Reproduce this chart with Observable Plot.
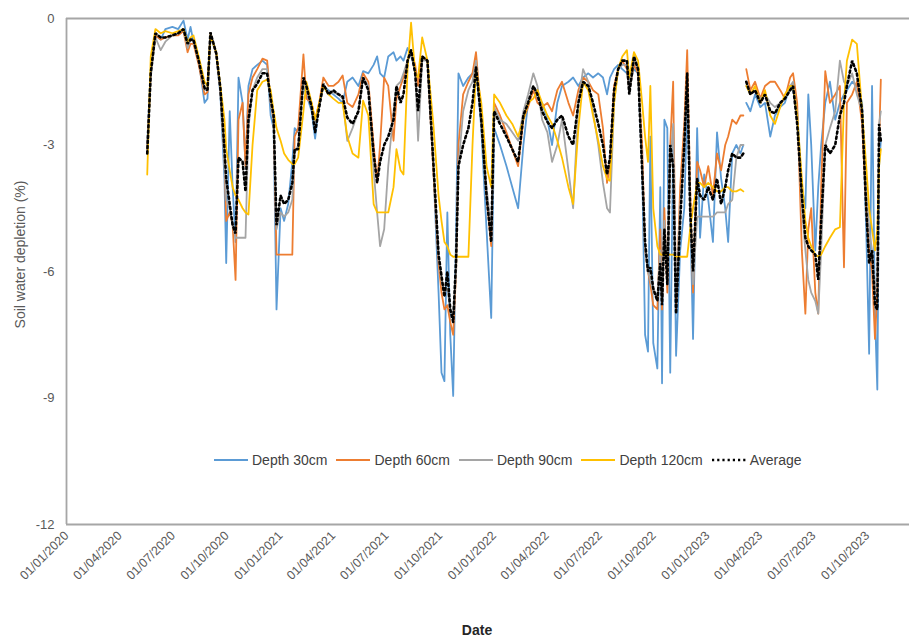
<!DOCTYPE html>
<html>
<head>
<meta charset="utf-8">
<script src="https://cdn.jsdelivr.net/npm/d3@7"></script>
<script src="https://cdn.jsdelivr.net/npm/@observablehq/plot@0.6"></script>
<style>
  html, body { margin: 0; padding: 0; background: #fff; }
  #wrap { position: relative; width: 909px; height: 643px; font-family: "Liberation Sans", Arial, sans-serif; }
  #legend { position: absolute; top: 452px; left: 213px; display: flex; align-items: center; font-size: 14px; color: #404040; white-space: nowrap; }
  #legend .item { display: flex; align-items: center; margin-right: 8px; }
  #legend svg { margin-right: 3px; }
</style>
</head>
<body>
<div id="wrap"><div id="legend"></div></div>
<script>
const dates = [
"2020-05-18","2020-05-24","2020-06-01","2020-06-10","2020-06-18","2020-06-30","2020-07-10","2020-07-19","2020-07-26","2020-07-31",
"2020-08-05","2020-08-14","2020-08-24","2020-08-29","2020-09-03","2020-09-13","2020-09-20","2020-09-27","2020-09-30","2020-10-06",
"2020-10-11","2020-10-16","2020-10-21","2020-10-28","2020-11-02","2020-11-07","2020-11-14","2020-11-22","2020-12-01","2020-12-09",
"2020-12-15","2020-12-20","2020-12-25","2021-01-01","2021-01-07","2021-01-14","2021-01-21","2021-01-25","2021-01-31","2021-02-09",
"2021-02-14","2021-02-23","2021-03-01","2021-03-08","2021-03-15","2021-03-24","2021-04-01","2021-04-10","2021-04-17","2021-04-25",
"2021-05-04","2021-05-14","2021-05-22","2021-05-31","2021-06-09","2021-06-15","2021-06-20","2021-06-27","2021-07-04","2021-07-13",
"2021-07-18","2021-07-25","2021-07-30","2021-08-06","2021-08-12","2021-08-19","2021-08-24","2021-08-31","2021-09-09","2021-09-19",
"2021-09-28","2021-10-03","2021-10-08","2021-10-13","2021-10-18","2021-10-23","2021-10-28","2021-11-01","2021-11-09","2021-11-18",
"2021-11-25","2021-12-01","2021-12-10","2021-12-19","2021-12-27","2022-01-01","2022-01-11","2022-01-22","2022-02-01","2022-02-11",
"2022-02-20","2022-02-28","2022-03-09","2022-03-16","2022-03-24","2022-04-02","2022-04-10","2022-04-19","2022-04-27","2022-05-08",
"2022-05-16","2022-05-25","2022-06-02","2022-06-11","2022-06-19","2022-06-28","2022-07-06","2022-07-13","2022-07-18","2022-07-25",
"2022-08-01","2022-08-08","2022-08-16","2022-08-20","2022-08-28","2022-09-04","2022-09-11","2022-09-16","2022-09-21","2022-09-25",
"2022-09-30","2022-10-07","2022-10-12","2022-10-15","2022-10-19","2022-10-24","2022-10-29","2022-11-03","2022-11-08","2022-11-15",
"2022-11-22","2022-11-27","2022-12-02","2022-12-07","2022-12-14","2022-12-19","2022-12-26","2023-01-02","2023-01-10","2023-01-17",
"2023-01-24","2023-01-31","2023-02-05","2023-02-12","2023-02-19","2023-02-26","2023-03-03","2023-03-05","2023-03-08","2023-03-15",
"2023-03-23","2023-04-01","2023-04-09","2023-04-18","2023-04-26","2023-05-05","2023-05-13","2023-05-22","2023-05-27","2023-06-03",
"2023-06-11","2023-06-17","2023-06-22","2023-06-27","2023-07-04","2023-07-09","2023-07-14","2023-07-21","2023-07-29","2023-08-07",
"2023-08-15","2023-08-22","2023-08-27","2023-09-05","2023-09-13","2023-09-22","2023-09-29","2023-10-04","2023-10-09","2023-10-14",
"2023-10-18","2023-10-21","2023-10-24"
];
const depth30 = [
-3.0,-1.2,-0.4,-0.5,-0.25,-0.2,-0.25,-0.05,-0.5,-0.2,
-0.55,-1.0,-2.0,-1.9,-0.4,-0.85,-1.8,-3.8,-5.8,-2.2,
-4.0,-5.3,-1.4,-2.0,-3.5,-1.6,-1.2,-1.1,-1.0,-1.1,
-2.3,-2.6,-6.9,-4.5,-4.8,-4.4,-3.4,-2.6,-2.7,-1.6,
-1.8,-2.2,-2.85,-2.0,-1.6,-1.7,-1.8,-1.9,-2.0,-1.5,
-1.4,-1.6,-1.25,-1.3,-1.1,-0.9,-1.3,-1.4,-0.9,-0.8,
-1.0,-0.9,-1.0,-0.7,-0.9,-1.2,-1.5,-0.9,-1.0,-3.5,
-6.5,-8.4,-8.6,-4.6,-7.5,-8.95,-5.0,-1.3,-1.6,-1.4,
-1.3,-1.1,-2.6,-5.0,-7.1,-2.6,-3.0,-3.5,-4.0,-4.5,
-3.0,-2.0,-1.7,-1.9,-2.0,-2.4,-3.0,-2.0,-1.6,-1.5,
-1.4,-1.6,-1.4,-1.3,-1.4,-1.3,-1.4,-1.8,-1.4,-1.2,
-1.1,-1.2,-1.3,-1.6,-1.2,-1.3,-3.5,-7.5,-7.9,-2.8,
-7.7,-8.3,-4.0,-8.65,-2.4,-2.6,-8.4,-3.0,-8.0,-5.5,
-4.5,-2.0,-4.5,-7.6,-2.6,-5.2,-3.7,-4.3,-5.3,-2.7,
-3.8,-4.5,-5.3,-3.2,-3.0,-3.2,-3.0,null,-2.0,-2.2,
-1.8,-2.1,-2.0,-2.8,-2.3,-2.1,-2.0,-1.6,-1.7,-2.2,
-4.0,-4.5,-1.8,-3.0,-5.5,-4.0,-3.0,-2.0,-1.5,-2.4,
-2.0,-1.8,-1.7,-1.5,-1.6,-2.0,-5.0,-7.95,-1.6,-7.0,
-8.8,-3.5,-2.9
];
const depth60 = [
-3.1,-1.3,-0.4,-0.5,-0.45,-0.4,-0.4,-0.3,-0.8,-0.6,
-0.6,-1.1,-1.8,-1.75,-0.35,-0.85,-1.7,-3.3,-4.8,-4.6,
-4.9,-6.2,-2.4,-2.0,-3.5,-1.8,-1.4,-1.2,-0.95,-1.0,
-2.0,-2.4,-5.6,-5.6,-5.6,-5.6,-5.6,-2.8,-2.6,-0.85,
-1.9,-2.0,-2.4,-2.0,-1.4,-1.6,-1.6,-1.5,-1.35,-2.0,
-2.1,-1.8,-1.3,-1.5,-3.0,-3.9,-3.0,-1.4,-1.6,-2.9,
-1.9,-1.6,-1.4,-1.0,-0.8,-1.1,-1.6,-0.9,-1.0,-3.6,
-5.8,-6.5,-6.9,-6.8,-7.2,-7.5,-6.0,-3.0,-1.8,-1.5,
-1.3,-0.8,-2.3,-4.2,-5.4,-2.0,-2.3,-2.7,-3.1,-3.5,
-2.4,-2.1,-1.7,-2.0,-2.1,-2.0,-2.2,-1.7,-1.5,-2.0,
-2.3,-1.7,-1.4,-1.5,-1.7,-1.8,-2.6,-3.9,-3.5,-1.6,
-1.2,-1.0,-1.2,-1.7,-1.1,-1.3,-3.0,-5.5,-6.0,-6.3,
-6.8,-6.9,-5.0,-6.9,-4.5,-6.5,-3.0,-1.5,-6.9,-4.0,
-2.5,-0.75,-4.0,-6.5,-3.4,-3.6,-4.0,-3.5,-4.2,-3.2,
-3.6,-3.0,-2.8,-2.4,-2.5,-2.3,-2.3,null,-1.2,-1.7,
-1.5,-1.9,-1.6,-1.5,-1.5,-1.7,-1.9,-1.4,-1.3,-2.0,
-5.5,-7.0,-5.0,-4.5,-6.5,-7.0,-4.0,-1.25,-2.0,-1.8,
-1.6,-5.9,-2.0,-1.8,-1.5,-2.5,-4.5,-5.5,-6.0,-7.6,
-6.5,-3.0,-1.45
];
const depth90 = [
-3.2,-1.4,-0.45,-0.75,-0.55,-0.4,-0.35,-0.25,-0.7,-0.5,
-0.55,-1.0,-1.7,-1.7,-0.35,-0.85,-1.7,-3.4,-4.3,-4.5,
-4.9,-5.2,-5.2,-5.2,-5.2,-2.6,-1.7,-1.4,-1.2,-1.2,
-2.0,-2.3,-5.0,-4.6,-4.7,-4.6,-4.3,-3.2,-3.0,-1.4,
-1.7,-2.1,-2.5,-2.1,-1.6,-1.8,-1.75,-1.8,-1.9,-2.9,
-2.6,-2.2,-1.4,-1.6,-3.6,-4.6,-5.4,-5.0,-3.5,-2.2,
-1.6,-1.5,-1.3,-1.0,-0.8,-1.3,-2.9,-1.0,-1.0,-3.4,
-5.6,-6.2,-6.5,-6.4,-6.9,-7.0,-6.0,-3.5,-2.2,-1.7,
-1.5,-1.0,-2.5,-4.0,-5.0,-2.1,-2.4,-2.5,-2.7,-2.9,
-2.2,-1.8,-1.3,-1.6,-2.4,-2.7,-3.4,-3.0,-2.4,-3.6,
-4.5,-2.0,-1.2,-1.5,-2.2,-3.0,-3.9,-4.5,-4.6,-2.0,
-1.2,-1.1,-1.1,-1.8,-1.0,-1.2,-3.5,-5.5,-6.0,-6.2,
-6.5,-6.6,-5.5,-6.6,-4.8,-6.0,-3.5,-2.5,-6.5,-4.5,
-3.0,-1.5,-4.5,-6.3,-4.7,-4.7,-4.7,-4.7,-4.7,-4.6,
-4.6,-4.6,-4.4,-4.3,-3.3,-3.0,-3.0,null,-1.6,-1.8,
-1.7,-1.9,-1.8,-2.0,-2.1,-2.0,-1.9,-1.6,-1.5,-2.3,
-4.5,-5.5,-6.2,-6.5,-6.7,-7.0,-5.5,-3.0,-2.6,-2.2,
-1.0,-1.5,-1.6,-1.3,-1.8,-2.2,-4.0,-5.0,-5.5,-6.5,
-6.0,-2.5,-2.2
];
const depth120 = [
-3.7,-0.9,-0.25,-0.35,-0.3,-0.35,-0.3,-0.25,-0.55,-0.45,
-0.4,-0.9,-1.5,-1.6,-0.4,-0.8,-1.6,-2.4,-3.1,-3.6,
-4.0,-4.2,-4.3,-4.5,-4.6,-4.65,-3.0,-1.7,-1.5,-1.45,
-1.7,-2.2,-2.6,-2.9,-3.2,-3.35,-3.45,-3.45,-3.3,-2.2,
-1.5,-2.0,-2.4,-2.0,-1.6,-1.8,-1.9,-2.0,-2.0,-2.8,
-3.2,-3.3,-1.95,-2.3,-4.4,-4.6,-4.6,-4.6,-4.6,-4.0,
-3.1,-3.6,-3.7,-1.2,-0.1,-1.3,-1.4,-0.45,-1.0,-2.5,
-4.2,-4.8,-5.3,-5.4,-5.6,-5.65,-5.65,-5.65,-5.65,-5.65,
-3.0,-1.2,-2.0,-3.5,-4.0,-1.8,-2.0,-2.3,-2.5,-2.8,
-2.4,-2.0,-1.9,-1.7,-2.0,-2.3,-2.5,-2.9,-3.3,-4.0,
-4.4,-2.6,-1.5,-1.7,-2.3,-2.9,-3.5,-3.8,-3.85,-2.0,
-1.2,-0.9,-0.75,-1.4,-0.8,-1.0,-2.0,-2.8,-3.4,-1.6,
-4.5,-5.4,-5.6,-5.6,-5.6,-5.6,-5.6,-5.6,-5.65,-5.65,
-5.65,-5.65,-5.0,-4.5,-3.9,-3.9,-4.0,-3.9,-4.0,-4.1,
-4.1,-4.0,-4.0,-4.1,-4.1,-4.05,-4.1,null,-1.6,-1.8,
-1.6,-2.0,-1.7,-2.3,-2.5,-2.1,-1.8,-1.6,-1.6,-2.3,
-3.8,-4.8,-5.2,-5.4,-5.6,-5.65,-5.6,-5.4,-5.2,-5.0,
-4.95,-2.0,-1.0,-0.5,-0.6,-2.2,-3.5,-4.5,-5.0,-5.5,
-5.0,-3.5,-3.1
];
const average = [
-3.2,-1.3,-0.35,-0.45,-0.45,-0.4,-0.35,-0.25,-0.6,-0.5,
-0.5,-1.0,-1.65,-1.7,-0.33,-0.83,-1.65,-3.1,-3.8,-4.4,
-4.9,-5.1,-3.3,-3.4,-4.1,-2.4,-1.7,-1.55,-1.3,-1.3,
-1.9,-2.3,-4.9,-4.2,-4.4,-4.3,-3.9,-3.1,-3.1,-1.4,
-1.6,-2.1,-2.7,-2.1,-1.55,-1.8,-1.7,-1.8,-1.85,-2.35,
-2.5,-2.2,-1.4,-1.7,-3.2,-3.9,-3.4,-3.0,-2.8,-2.4,
-1.6,-2.0,-1.8,-1.0,-0.75,-1.3,-2.2,-0.9,-1.0,-3.4,
-5.6,-6.1,-6.6,-6.0,-6.9,-7.2,-5.7,-3.5,-3.0,-2.6,
-2.0,-1.15,-2.4,-4.2,-5.3,-2.2,-2.5,-2.8,-3.1,-3.4,
-2.3,-2.0,-1.6,-1.8,-2.2,-2.45,-2.6,-2.4,-2.3,-2.8,
-3.0,-2.0,-1.5,-1.6,-2.0,-2.5,-3.0,-3.7,-3.3,-1.7,
-1.2,-1.0,-1.0,-1.8,-0.9,-1.2,-3.6,-5.3,-6.0,-5.9,
-6.4,-6.7,-5.8,-6.8,-5.0,-6.3,-3.0,-3.5,-7.0,-4.8,
-3.0,-1.3,-4.5,-6.0,-3.8,-4.2,-4.3,-4.0,-4.3,-3.8,
-4.4,-4.0,-3.6,-3.2,-3.3,-3.3,-3.2,null,-1.5,-1.8,
-1.7,-2.0,-1.8,-2.2,-2.25,-2.0,-1.9,-1.7,-1.6,-2.5,
-4.2,-5.2,-5.4,-5.5,-5.6,-6.2,-4.8,-3.0,-3.2,-3.0,
-2.3,-2.0,-1.6,-1.0,-1.3,-2.2,-4.5,-5.8,-5.5,-6.8,
-6.9,-2.5,-2.9
];
const seriesNames = ["Depth 30cm", "Depth 60cm", "Depth 90cm", "Depth 120cm", "Average"];
const seriesColors = ["#5B9BD5", "#ED7D31", "#A5A5A5", "#FFC000", "#000000"];
const xDomain = ["2020-01-01", "2023-12-12"];
const xTicks = ["2020-01-01","2020-04-01","2020-07-01","2020-10-01","2021-01-01","2021-04-01","2021-07-01","2021-10-01",
"2022-01-01","2022-04-01","2022-07-01","2022-10-01","2023-01-01","2023-04-01","2023-07-01","2023-10-01"];
const yTicks = [0, -3, -6, -9, -12];
const yTitle = "Soil water depletion (%)";
const xTitle = "Date";

const parse = d3.utcParse("%Y-%m-%d");
const seriesValues = [depth30, depth60, depth90, depth120, average];
const tables = seriesValues.map((vals, k) => dates.map((d, i) => ({date: parse(d), value: vals[i], series: seriesNames[k]})));
const avgDash = "2.2,3";

const marks = [
  Plot.ruleY([0, -12], {stroke: "#a6a6a6", strokeWidth: 1.8}),
  Plot.ruleX([parse(xDomain[0])], {y1: -12, y2: 0, stroke: "#a6a6a6", strokeWidth: 1.8}),
];
for (let k = 0; k < 4; k++) {
  marks.push(Plot.line(tables[k], {x: "date", y: "value", stroke: seriesColors[k], strokeWidth: 1.8, strokeLinejoin: "round"}));
}
marks.push(Plot.line(tables[4], {x: "date", y: "value", stroke: seriesColors[4], strokeWidth: 2.6, strokeDasharray: avgDash, strokeLinejoin: "miter"}));
marks.push(
  Plot.axisY({ticks: yTicks, tickSize: 0, tickPadding: 12, tickFormat: d => String(d), fontSize: 13, label: null}),
  Plot.axisX({ticks: xTicks.map(parse), tickSize: 0, tickPadding: 9, tickRotate: -45, tickFormat: d3.utcFormat("%d/%m/%Y"), fontSize: 12.5, label: null}),
  Plot.text([yTitle], {text: d => d, frameAnchor: "left", textAnchor: "middle", rotate: -90, dx: -46, dy: -17, fontSize: 14}),
  Plot.text([xTitle], {text: d => d, frameAnchor: "bottom", textAnchor: "middle", dx: -11, dy: 110, fontSize: 14, fontWeight: "bold", fill: "#262626"})
);

const chart = Plot.plot({
  width: 909,
  height: 643,
  marginLeft: 66,
  marginRight: 0,
  marginTop: 18,
  marginBottom: 119,
  style: {fontFamily: "Liberation Sans, Arial, sans-serif", color: "#595959", background: "#fff"},
  x: {type: "utc", domain: xDomain.map(parse)},
  y: {domain: [-12, 0]},
  marks
});
document.getElementById("wrap").prepend(chart);

const legend = document.getElementById("legend");
seriesNames.forEach((name, k) => {
  const item = document.createElement("div");
  item.className = "item";
  const dash = k === 4 ? ` stroke-dasharray="${avgDash}" stroke-width="2.6"` : ' stroke-width="2"';
  item.innerHTML = `<svg width="36" height="10"><line x1="1" y1="5" x2="35" y2="5" stroke="${seriesColors[k]}"${dash}/></svg><span>${name}</span>`;
  legend.appendChild(item);
});
</script>
</body>
</html>
